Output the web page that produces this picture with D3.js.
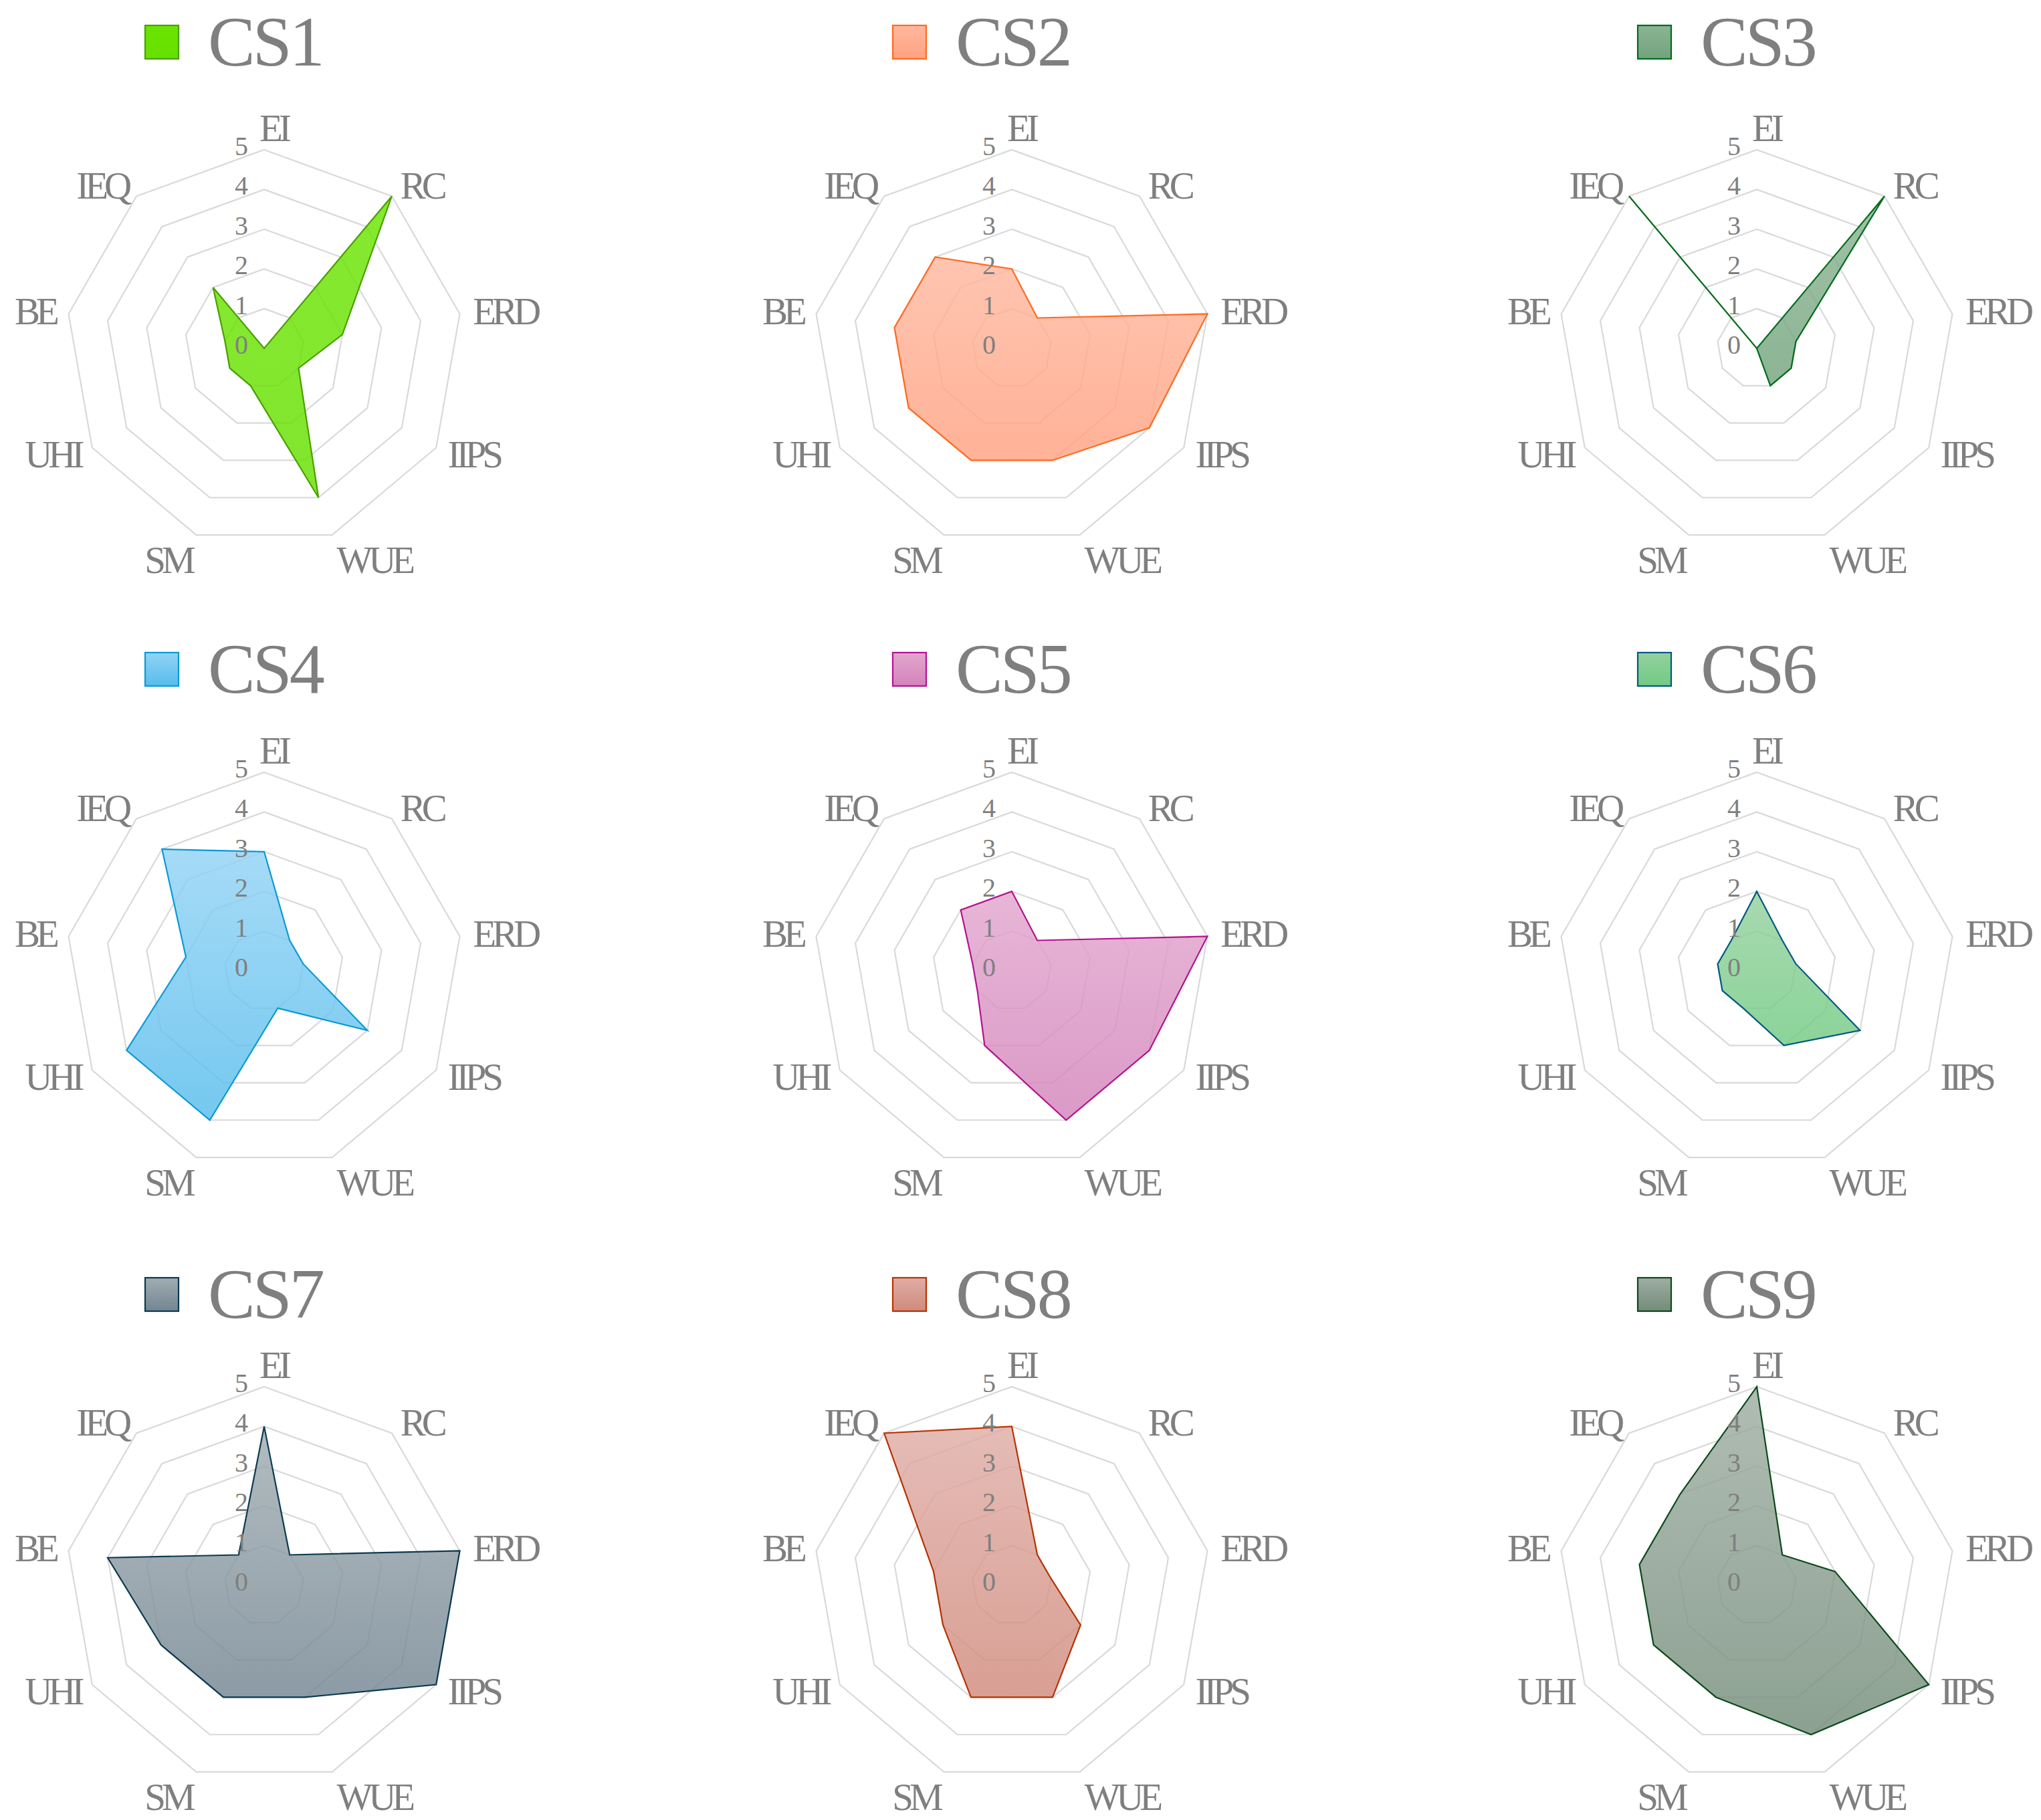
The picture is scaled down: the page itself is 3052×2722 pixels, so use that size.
<!DOCTYPE html>
<html>
<head>
<meta charset="utf-8">
<script src="https://cdn.jsdelivr.net/npm/d3@7"></script>
<style>
  html, body { margin: 0; padding: 0; background: #ffffff; }
  svg { display: block; }
</style>
</head>
<body>
<div id="chart"></div>
<script>
// ---------------- data ----------------
const axes = ["EI", "RC", "ERD", "IIPS", "WUE", "SM", "UHI", "BE", "IEQ"];
const ticks = [0, 1, 2, 3, 4, 5];
const seriesNames = ["CS1", "CS2", "CS3", "CS4", "CS5", "CS6", "CS7", "CS8", "CS9"];
const cs1 = [0, 5, 2, 1, 4, 1, 1, 1, 2];
const cs2 = [2, 1, 5, 4, 3, 3, 3, 3, 3];
const cs3 = [0, 5, 1, 1, 1, 0, 0, 0, 5];
const cs4 = [3, 1, 1, 3, 1, 4, 4, 2, 4];
const cs5 = [2, 1, 5, 4, 4, 2, 1, 1, 2];
const cs6 = [2, 1, 1, 3, 2, 1, 1, 1, 1];
const cs7 = [4, 1, 5, 5, 3, 3, 3, 4, 1];
const cs8 = [4, 1, 1, 2, 3, 3, 2, 2, 5];
const cs9 = [5, 1, 2, 5, 4, 3, 3, 3, 3];
const seriesValues = [cs1, cs2, cs3, cs4, cs5, cs6, cs7, cs8, cs9];

// ---------------- styles ----------------
const fillTop    = ["#6ae400", "#ffb89f", "#8bb495", "#92d3f5", "#e2a6ce", "#94d19e", "#a1adb2", "#dfada6", "#9faea3"];
const fillBottom = ["#66e000", "#ffa180", "#73a37d", "#56bcec", "#d383ba", "#72ca83", "#738592", "#d08a7c", "#738c79"];
const strokeCol  = ["#4aa000", "#ff6a1f", "#006b1a", "#0a9ad6", "#b5128f", "#00597f", "#0b3a50", "#b73300", "#0c4a1c"];

const W = 3052, H = 2722;
const colX = [395, 1513, 2627];
const rowY = [521, 1452, 2371];
const legendSqY = [63, 1001, 1936];
const legendBaseY = [98, 1036, 1971];
const R = 297;
const textGray = "#7f7f7f";
const fontFam = "'Liberation Serif', 'Times New Roman', serif";

const svg = d3.select("#chart").append("svg")
  .attr("width", W).attr("height", H)
  .attr("viewBox", `0 0 ${W} ${H}`);
svg.append("rect").attr("width", W).attr("height", H).attr("fill", "#ffffff");

const defs = svg.append("defs");
seriesNames.forEach((name, i) => {
  const g = defs.append("linearGradient").attr("id", "grad" + i)
    .attr("x1", 0).attr("y1", 0).attr("x2", 0).attr("y2", 1);
  g.append("stop").attr("offset", "0%").attr("stop-color", fillTop[i]);
  g.append("stop").attr("offset", "100%").attr("stop-color", fillBottom[i]);
});

const rScale = d3.scaleLinear().domain([0, 5]).range([0, R]);
const aScale = d3.scaleLinear().domain([0, axes.length]).range([0, 2 * Math.PI]);

const radial = d3.lineRadial()
  .angle((d, i) => aScale(i))
  .radius(d => rScale(d))
  .curve(d3.curveLinearClosed);

const capH = 38;

seriesNames.forEach((name, si) => {
  const col = si % 3, row = Math.floor(si / 3);
  const cx = colX[col], cy = rowY[row];
  const g = svg.append("g").attr("transform", `translate(${cx},${cy})`);

  // grid rings
  ticks.filter(t => t > 0).forEach(t => {
    g.append("path")
      .attr("d", radial(axes.map(() => t)))
      .attr("fill", "none")
      .attr("stroke", "#d9d9d9")
      .attr("stroke-width", 2.2);
  });

  // series polygon
  g.append("path")
    .attr("d", radial(seriesValues[si]))
    .attr("fill", `url(#grad${si})`)
    .attr("fill-opacity", 0.82)
    .attr("stroke", strokeCol[si])
    .attr("stroke-width", 2.2)
    .attr("stroke-linejoin", "miter");

  // tick labels
  ticks.forEach(t => {
    g.append("text")
      .attr("x", -24)
      .attr("y", -rScale(t) + 8)
      .attr("text-anchor", "end")
      .attr("font-family", fontFam)
      .attr("font-size", 40)
      .attr("fill", textGray)
      .text(t);
  });

  // axis labels
  axes.forEach((a, i) => {
    const ang = aScale(i);
    const s = Math.sin(ang), c = Math.cos(ang);
    const rr = R + 20;
    let px = rr * s, py = -rr * c;
    let anchor = s > 0.1 ? "start" : (s < -0.1 ? "end" : "middle");
    let extra = 0;
    if (c < -0.9) extra = capH / 2;
    if (c > 0.99) { extra = -12; px += 14; }
    g.append("text")
      .attr("x", px)
      .attr("y", py + capH / 2 + extra)
      .attr("text-anchor", anchor)
      .attr("font-family", fontFam)
      .attr("font-size", 57)
      .attr("letter-spacing", -6)
      .attr("fill", textGray)
      .text(a);
  });

  // legend
  const lg = svg.append("g");
  lg.append("rect")
    .attr("x", cx - 153 - 25).attr("y", legendSqY[row] - 25)
    .attr("width", 50).attr("height", 50)
    .attr("fill", `url(#grad${si})`)
    .attr("stroke", strokeCol[si])
    .attr("stroke-width", 2.2);
  lg.append("text")
    .attr("x", cx - 84)
    .attr("y", legendBaseY[row])
    .attr("font-family", fontFam)
    .attr("font-size", 106)
    .attr("letter-spacing", -4)
    .attr("fill", textGray)
    .text(name);
});
</script>
</body>
</html>
